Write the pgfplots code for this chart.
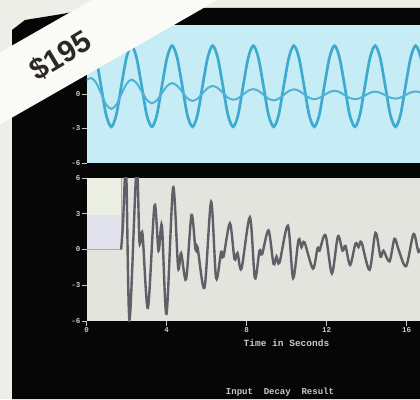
\documentclass[border=0pt]{standalone}
\usepackage{pgfplots}
\pgfplotsset{compat=1.18}
\usepackage{fontspec}
\setmainfont{Liberation Sans}
\setmonofont{Liberation Mono}
\definecolor{pagec}{RGB}{238,238,232}
\definecolor{scr}{RGB}{6,6,6}
\definecolor{cyanbg}{RGB}{198,236,246}
\definecolor{graybg}{RGB}{226,228,221}
\definecolor{boxtop}{RGB}{236,240,226}
\definecolor{boxlav}{RGB}{226,226,236}
\definecolor{boxline}{RGB}{170,170,172}
\definecolor{bigw}{RGB}{62,170,206}
\definecolor{smallw}{RGB}{80,178,212}
\definecolor{tracec}{RGB}{96,94,102}
\definecolor{tickc}{RGB}{200,200,196}
\definecolor{bannerc}{RGB}{250,250,247}
\definecolor{bannertxt}{RGB}{45,40,40}
\begin{document}
\begin{tikzpicture}[x=1pt,y=1pt]
\useasboundingbox (0pt,0pt) rectangle (420pt,399pt);
\clip (0pt,0pt) rectangle (420pt,399pt);
\fill[pagec] (0pt,0pt) rectangle (420pt,399pt);
\fill[scr] (12pt,0pt) -- (12pt,369pt) -- (25pt,379pt) -- (62pt,385pt) -- (95pt,391pt) -- (420pt,391pt) -- (420pt,0pt) -- cycle;

\pgfplotsset{scrax/.style={
  scale only axis, width=400pt, xmin=0, xmax=20, ymin=-6, ymax=6,
  axis line style={draw=none},
  tick align=outside, major tick length=5pt,
  tick style={tickc, line width=0.9pt},
  ytick={-6,-3,0,3,6},
  ytick pos=left, xtick pos=bottom,
  ticklabel style={font=\fontsize{7.5}{7.5}\selectfont\ttfamily\bfseries, text=tickc, inner sep=1pt},
}}

\begin{axis}[scrax, at={(86.5pt,236pt)}, anchor=south west, height=138pt,
  axis background/.style={fill=cyanbg}, xtick=\empty,
  yticklabels={-6,-3,0,{},{}}]
\addplot[bigw, line width=2.7pt, smooth] coordinates {
(0,3.0)
(0.22,4.2)(0.47,3.17)(0.73,0.68)(0.98,-1.81)(1.24,-2.85)(1.49,-1.81)(1.74,0.68)(2.00,3.17)
(2.25,4.2)(2.50,3.17)(2.76,0.68)(3.01,-1.81)(3.27,-2.85)(3.52,-1.81)(3.77,0.68)(4.03,3.17)
(4.28,4.2)(4.53,3.17)(4.79,0.68)(5.04,-1.81)(5.30,-2.85)(5.55,-1.81)(5.80,0.68)(6.06,3.17)
(6.31,4.2)(6.56,3.17)(6.82,0.68)(7.07,-1.81)(7.33,-2.85)(7.58,-1.81)(7.83,0.68)(8.09,3.17)
(8.34,4.2)(8.59,3.17)(8.85,0.68)(9.10,-1.81)(9.36,-2.85)(9.61,-1.81)(9.86,0.68)(10.12,3.17)
(10.37,4.2)(10.62,3.17)(10.88,0.68)(11.13,-1.81)(11.39,-2.85)(11.64,-1.81)(11.89,0.68)(12.15,3.17)
(12.40,4.2)(12.65,3.17)(12.91,0.68)(13.16,-1.81)(13.42,-2.85)(13.67,-1.81)(13.92,0.68)(14.18,3.17)
(14.43,4.2)(14.68,3.17)(14.94,0.68)(15.19,-1.81)(15.45,-2.85)(15.70,-1.81)(15.95,0.68)(16.21,3.17)
(16.46,4.2)(16.71,3.17)(16.97,0.68)(17.22,-1.81)(17.48,-2.85)
};
\addplot[smallw, line width=2pt, smooth] coordinates {
(0,1.2)
(0.22,1.4)(0.47,1.01)(0.73,0.05)(0.98,-0.91)(1.24,-1.3)(1.49,-0.93)(1.74,-0.03)(2.00,0.88)
(2.25,1.25)(2.50,0.95)(2.76,0.23)(3.01,-0.5)(3.27,-0.8)(3.52,-0.54)(3.77,0.08)(4.03,0.69)
(4.28,0.95)(4.53,0.72)(4.79,0.18)(5.04,-0.37)(5.30,-0.6)(5.55,-0.41)(5.80,0.05)(6.06,0.51)
(6.31,0.7)(6.56,0.52)(6.82,0.1)(7.07,-0.32)(7.33,-0.5)(7.58,-0.37)(7.83,-0.04)(8.09,0.29)
(8.34,0.42)(8.59,0.28)(8.85,-0.07)(9.10,-0.41)(9.36,-0.55)(9.61,-0.41)(9.86,-0.08)(10.12,0.26)
(10.37,0.4)(10.62,0.28)(10.88,-0.03)(11.13,-0.33)(11.39,-0.45)(11.64,-0.34)(11.89,-0.09)(12.15,0.17)
(12.40,0.28)(12.65,0.17)(12.91,-0.09)(13.16,-0.34)(13.42,-0.45)(13.67,-0.36)(13.92,-0.13)(14.18,0.11)
(14.43,0.2)(14.68,0.11)(14.94,-0.1)(15.19,-0.31)(15.45,-0.4)(15.70,-0.31)(15.95,-0.09)(16.21,0.13)
(16.46,0.22)(16.71,0.13)(16.97,-0.09)(17.22,-0.31)(17.48,-0.4)
};
\end{axis}

\begin{axis}[scrax, at={(86.5pt,78pt)}, anchor=south west, height=143pt,
  axis background/.style={fill=graybg},
  yticklabels={-6,-3,0,3,6},
  xtick={0,4,8,12,16}, xticklabels={0,4,8,12,16},
  xlabel={Time in Seconds},
  xlabel style={at={(axis description cs:0.5,0)}, anchor=center, yshift=-22pt,
    font=\fontsize{9.5}{9.5}\selectfont\ttfamily\bfseries, text=tickc}]
\addplot[fill=boxtop, draw=none] coordinates {(0,2.9)(1.73,2.9)(1.73,6)(0,6)} -- cycle;
\addplot[fill=boxlav, draw=none] coordinates {(0,0)(1.73,0)(1.73,2.9)(0,2.9)} -- cycle;
\addplot[boxline, line width=1.2pt] coordinates {(0,0)(1.73,0)(1.73,6)};
\addplot[tracec, line width=2.4pt, smooth, tension=0.5] coordinates {
(1.73,0)(1.82,2.0)(1.98,6.8)(2.15,-5.9)(2.5,6.8)(2.65,0.6)(2.8,1.3)(3.07,-4.9)
(3.4,3.7)(3.6,-0.1)(3.77,2.0)(4.0,-5.4)(4.33,5.2)(4.58,-1.5)(4.73,-0.3)(4.98,-2.5)
(5.25,2.9)(5.45,0.0)(5.55,0.2)(5.9,-3.2)(6.23,4.0)(6.48,-2.4)(6.73,-0.2)(6.85,-0.6)
(7.17,2.2)(7.4,-0.8)(7.55,-0.3)(7.75,-1.6)(8.17,2.7)(8.42,-2.4)(8.65,-0.1)(8.78,-0.4)
(9.1,1.6)(9.35,-1.2)(9.5,-0.6)(9.65,-1.1)(10.07,2.0)(10.33,-2.4)(10.6,0.8)(10.75,0.2)
(10.9,0.6)(11.32,-1.6)(11.55,0.1)(11.65,-0.1)(11.95,1.2)(12.27,-2.0)(12.57,1.1)(12.8,-0.1)
(12.95,0.3)(13.18,-1.3)(13.45,0.5)(13.6,0.2)(13.75,0.6)(14.15,-1.7)(14.45,1.4)(14.7,-0.6)
(14.85,-0.1)(15.15,-1.0)(15.4,0.9)(15.6,0.0)(15.98,-1.4)(16.35,1.3)(16.6,-0.2)(16.8,0.5)
};
\end{axis}

% price banner
\fill[bannerc] (-10pt,268.8pt) -- (260pt,423.3pt) -- (260pt,495.3pt) -- (-10pt,340.8pt) -- cycle;
\node[rotate=31, font=\fontsize{30}{30}\selectfont\bfseries, text=bannertxt] at (60.5pt,343pt) {\$195};
% menu line
\node[font=\fontsize{9}{9}\selectfont\ttfamily\bfseries, text=tickc] at (280pt,7pt) {Input~~Decay~~Result};
\end{tikzpicture}
\end{document}
